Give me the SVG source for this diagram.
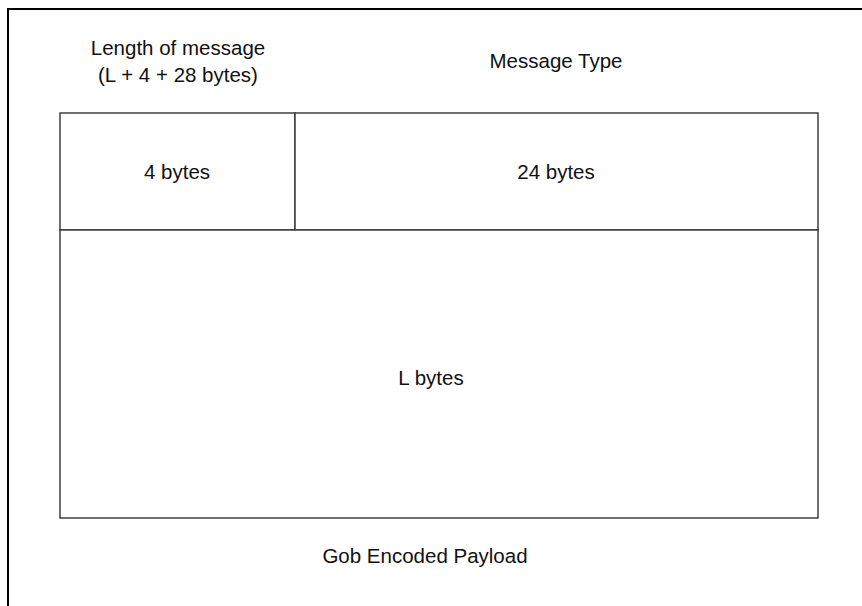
<svg xmlns="http://www.w3.org/2000/svg" width="862" height="606" viewBox="0 0 862 606">
  <style>
    .box { fill: #ffffff; stroke: #333333; stroke-width: 1.4; }
    .frame { fill: none; stroke: #000000; stroke-width: 2; }
    .lbl { font-family: "Liberation Sans", Arial, sans-serif; font-size: 20.5px; fill: #111111; text-anchor: middle; }
  </style>
  <rect width="862" height="606" fill="#ffffff"/>
  <!-- outer frame: top and left edges -->
  <path class="frame" d="M8 606 V9 H862"/>

  <g id="header-labels">
    <text class="lbl" x="178" y="55">Length of message</text>
    <text class="lbl" x="178" y="82">(L + 4 + 28 bytes)</text>
    <text class="lbl" x="556" y="68">Message Type</text>
  </g>

  <g id="length-field">
    <rect class="box" x="60" y="113" width="235" height="117"/>
    <text class="lbl" x="177" y="179">4 bytes</text>
  </g>

  <g id="type-field">
    <rect class="box" x="295" y="113" width="523" height="117"/>
    <text class="lbl" x="556" y="179">24 bytes</text>
  </g>

  <g id="payload-field">
    <rect class="box" x="60" y="230" width="758" height="288"/>
    <text class="lbl" x="431" y="385">L bytes</text>
  </g>

  <g id="payload-label">
    <text class="lbl" x="425" y="563">Gob Encoded Payload</text>
  </g>
</svg>
